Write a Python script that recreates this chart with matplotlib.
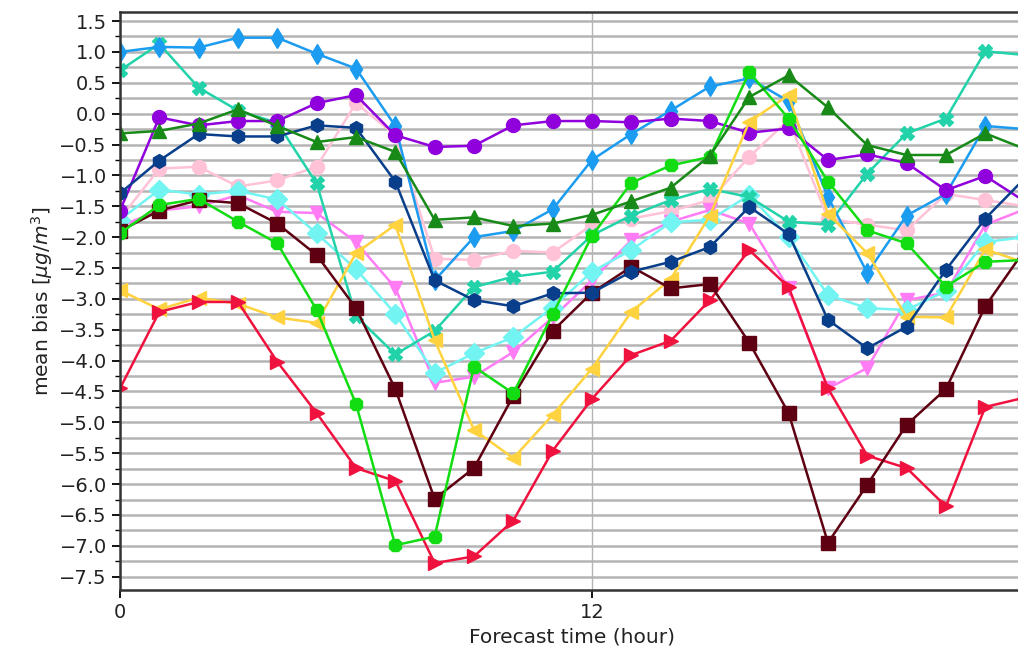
import matplotlib
matplotlib.use("Agg")
import matplotlib.pyplot as plt
import numpy as np
from matplotlib.ticker import MultipleLocator

hours = np.arange(0, 24)

# mean bias per forecast hour
blue_d = [1.0, 1.08, 1.07, 1.23, 1.23, 0.97, 0.73, -0.2, -2.7, -2.0, -1.9, -1.55,
          -0.75, -0.33, 0.05, 0.44, 0.57, 0.2, -1.35, -2.58, -1.65, -1.3, -0.2, -0.25]
turq_x = [0.7, 1.13, 0.42, 0.05, -0.15, -1.13, -3.28, -3.9, -3.52, -2.81, -2.64, -2.56,
          -1.97, -1.65, -1.4, -1.22, -1.35, -1.75, -1.8, -0.97, -0.32, -0.08, 1.01, 0.95]
purple_o = [-1.57, -0.06, -0.19, -0.12, -0.12, 0.17, 0.3, -0.35, -0.54, -0.52, -0.19, -0.12,
            -0.12, -0.14, -0.08, -0.12, -0.31, -0.24, -0.75, -0.66, -0.8, -1.24, -1.01, -1.42]
green_t = [-0.32, -0.28, -0.16, 0.07, -0.2, -0.46, -0.38, -0.62, -1.72, -1.68, -1.82, -1.78,
           -1.64, -1.42, -1.2, -0.68, 0.27, 0.62, 0.1, -0.51, -0.67, -0.67, -0.32, -0.57]
navy_h = [-1.29, -0.76, -0.33, -0.37, -0.37, -0.19, -0.23, -1.1, -2.7, -3.02, -3.12, -2.91,
          -2.9, -2.56, -2.4, -2.16, -1.51, -1.95, -3.34, -3.8, -3.45, -2.53, -1.7, -1.05]
pink_o = [-1.7, -0.89, -0.86, -1.18, -1.08, -0.86, 0.17, -0.35, -2.35, -2.37, -2.22, -2.25,
          -1.8, -1.7, -1.58, -1.4, -0.7, -0.1, -1.7, -1.8, -1.89, -1.3, -1.4, -1.5]
cyan_d = [-1.72, -1.23, -1.31, -1.25, -1.39, -1.94, -2.52, -3.24, -4.2, -3.88, -3.62, -3.14,
          -2.56, -2.21, -1.76, -1.72, -1.32, -2.0, -2.94, -3.15, -3.18, -2.87, -2.08, -2.0]
violet_v = [-1.82, -1.57, -1.5, -1.32, -1.59, -1.61, -2.08, -2.82, -4.36, -4.26, -3.86, -3.3,
            -2.7, -2.05, -1.75, -1.56, -1.78, -2.83, -4.45, -4.12, -3.02, -2.9, -1.8, -1.55]
lime_8 = [-1.94, -1.48, -1.38, -1.75, -2.1, -3.18, -4.7, -6.99, -6.85, -4.1, -4.53, -3.25,
          -1.98, -1.12, -0.84, -0.7, 0.67, -0.08, -1.1, -1.89, -2.1, -2.8, -2.4, -2.37]
maroon_s = [-1.9, -1.57, -1.4, -1.45, -1.78, -2.29, -3.15, -4.46, -6.24, -5.74, -4.57, -3.52,
            -2.9, -2.48, -2.83, -2.76, -3.71, -4.85, -6.95, -6.01, -5.04, -4.46, -3.12, -2.21]
gold_l = [-2.86, -3.17, -2.98, -3.08, -3.3, -3.39, -2.26, -1.8, -3.67, -5.12, -5.58, -4.88,
          -4.13, -3.21, -2.68, -1.65, -0.13, 0.3, -1.62, -2.26, -3.29, -3.3, -2.2, -2.41]
red_r = [-4.45, -3.21, -3.05, -3.05, -4.02, -4.85, -5.74, -5.95, -7.28, -7.17, -6.59, -5.46,
         -4.62, -3.91, -3.68, -3.02, -2.21, -2.81, -4.45, -5.54, -5.74, -6.36, -4.75, -4.6]

series = [
    (pink_o, '#ffc2d6', 'o'),
    (violet_v, '#ff7cf5', 'v'),
    (cyan_d, '#72f4f2', 'D'),
    (turq_x, '#22d3aa', 'X'),
    (blue_d, '#1c9cf0', 'd'),
    (purple_o, '#9000dc', 'o'),
    (gold_l, '#ffd23f', '<'),
    (red_r, '#f0123e', '>'),
    (maroon_s, '#5e0012', 's'),
    (navy_h, '#083e8a', 'h'),
    (lime_8, '#12dc12', '8'),
    (green_t, '#178a17', '^'),
]

fig = plt.figure(figsize=(10.18, 6.51), dpi=100)
ax = fig.add_axes([120/1018, 1 - 590/651, 904.6/1018, 578/651])

for vals, col, mk in series:
    ax.plot(hours, vals, color=col, marker=mk, linewidth=1.8, markersize=10)

ax.set_xlim(0, 23)
ax.set_ylim(-7.715, 1.646)
ax.set_xticks([0, 12])
ax.yaxis.set_major_locator(MultipleLocator(0.5))
ax.yaxis.set_minor_locator(MultipleLocator(0.25))
ax.grid(True, axis='y', which='both', color='#b4b4b4', linewidth=1.8)
ax.grid(True, axis='x', which='major', color='#b4b4b4', linewidth=1.0)
ax.set_axisbelow(True)
for s in ax.spines.values():
    s.set_linewidth(1.8)
    s.set_color('#333333')
ax.tick_params(axis='both', which='major', labelsize=14, length=6, width=1.3,
               labelcolor='#222222')
ax.tick_params(axis='y', which='minor', length=3.5, width=1.0)
ax.set_xlabel('Forecast time (hour)', fontsize=14.5, labelpad=4, color='#222222')
ax.set_ylabel(r'mean bias [$\mu g/m^3$]', fontsize=14.5, labelpad=3, color='#222222')

fig.savefig('out.png', dpi=100)
